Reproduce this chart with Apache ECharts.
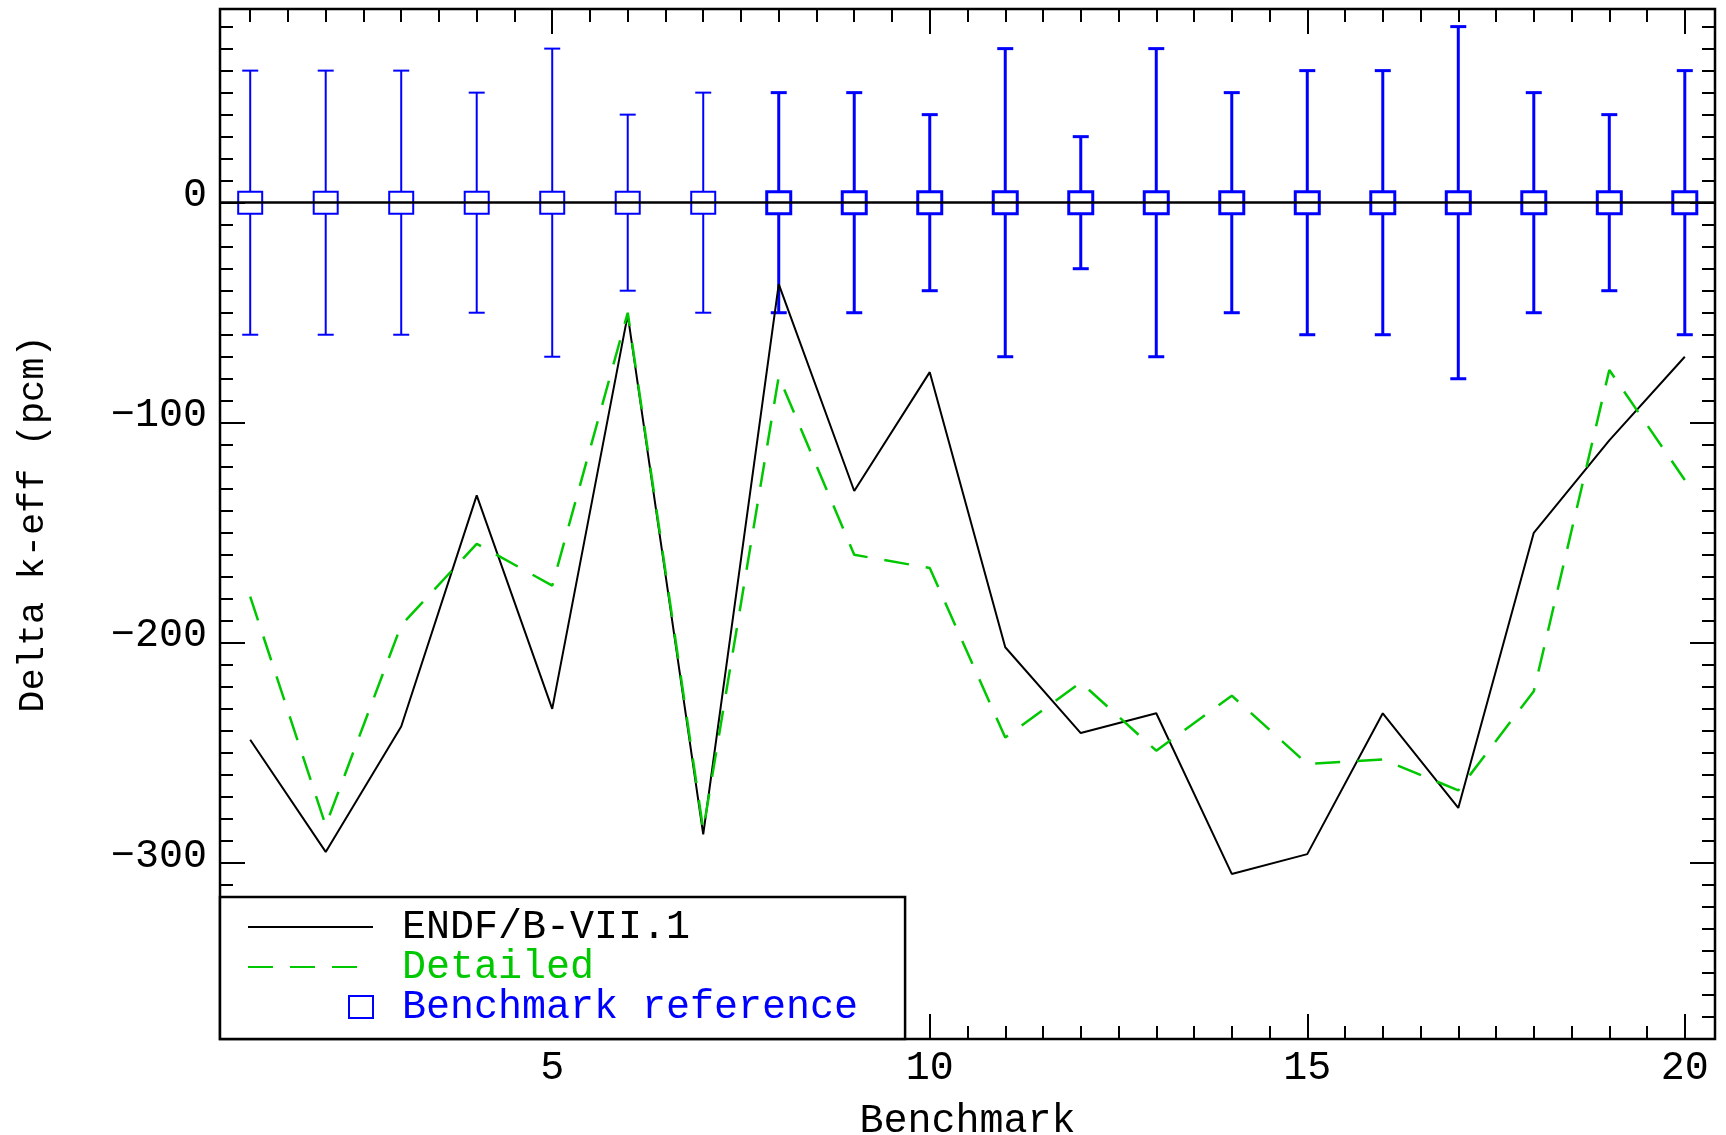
<!DOCTYPE html>
<html>
<head>
<meta charset="utf-8">
<title>Delta k-eff per benchmark</title>
<script src="https://cdn.jsdelivr.net/npm/echarts@6/dist/echarts.min.js"></script>
<style>
  html, body { margin: 0; padding: 0; background: #fff; }
  #main { width: 1726px; height: 1135px; }
</style>
</head>
<body>
<div id="main"></div>
<script>
// data (pcm)
var benchmarks = [1, 2, 3, 4, 5, 6, 7, 8, 9, 10, 11, 12, 13, 14, 15, 16, 17, 18, 19, 20];
var endfValues = [-244, -295, -238, -133, -230, -51, -287, -37, -131, -77, -202, -241, -232, -305, -296, -232, -275, -150, -108, -70];
var detailedValues = [-179, -283, -192, -155, -174, -50, -285, -79, -160, -166, -243, -218, -249, -224, -255, -253, -267, -222, -76, -126];
var refValues = [0, 0, 0, 0, 0, 0, 0, 0, 0, 0, 0, 0, 0, 0, 0, 0, 0, 0, 0, 0];
var refErrors = [60, 60, 60, 50, 70, 40, 50, 50, 50, 40, 70, 30, 70, 50, 60, 60, 80, 50, 40, 60];

// axis ticks
var xLabelTicks = [5, 10, 15, 20];
var yLabelTicks = [0, -100, -200, -300];
var xMin = 0.6, xMax = 20.4;
var yMin = -380, yMax = 88;

var xMinorTicks = [];
for (var t = 1; t <= 20; t += 0.5) xMinorTicks.push(t);
var yMinorTicks = [];
for (var v = -370; v <= 80; v += 10) yMinorTicks.push(v);

var mono = 'Liberation Mono';
var blue = '#0000ff';
var green = '#00c800';
var noDot = { color: 'rgba(0,0,0,0)', borderColor: 'rgba(0,0,0,0)', borderWidth: 0 };

function minusFmt(val) {
  return val < 0 ? '\u2212' + (-val) : String(val);
}

// one helper for all the tick-only axes (frame ticks point inward)
function tickAxis(kind, pos, ticks, len, labels) {
  var ax = {
    type: 'value',
    position: pos,
    min: kind === 'x' ? xMin : yMin,
    max: kind === 'x' ? xMax : yMax,
    axisLine: { show: false, onZero: false },
    splitLine: { show: false },
    axisTick: {
      show: true, inside: true, length: len,
      customValues: ticks,
      lineStyle: { color: '#000', width: 2 }
    },
    axisLabel: { show: false }
  };
  if (labels) {
    ax.axisLabel = {
      show: true,
      customValues: labels,
      formatter: minusFmt,
      color: '#000',
      fontFamily: mono,
      fontSize: 40
    };
  }
  return ax;
}

var xBottom = tickAxis('x', 'bottom', xMinorTicks, 13, xLabelTicks);
xBottom.axisLabel.margin = 9;
xBottom.name = 'Benchmark';
xBottom.nameLocation = 'middle';
xBottom.nameGap = 62;
xBottom.nameTextStyle = { color: '#000', fontFamily: mono, fontSize: 40 };

var yLeft = tickAxis('y', 'left', yMinorTicks, 13, yLabelTicks);
yLeft.axisLabel.margin = 13;
yLeft.axisLabel.verticalAlign = 'bottom';
yLeft.axisLabel.lineHeight = 14;
yLeft.name = 'Delta k-eff (pcm)';
yLeft.nameLocation = 'middle';
yLeft.nameGap = 168;
yLeft.nameTextStyle = { color: '#000', fontFamily: mono, fontSize: 37 };

var chart = echarts.init(document.getElementById('main'));

var option = {
  animation: false,
  backgroundColor: '#fff',
  grid: {
    left: 220, right: 11, top: 9, bottom: 96,
    show: true, borderColor: '#000', borderWidth: 2.5,
    backgroundColor: 'transparent',
    containLabel: false,
    outerBoundsMode: 'none'
  },
  xAxis: [
    xBottom,
    tickAxis('x', 'bottom', xLabelTicks, 25),
    tickAxis('x', 'top', xMinorTicks, 13),
    tickAxis('x', 'top', xLabelTicks, 25)
  ],
  yAxis: [
    yLeft,
    tickAxis('y', 'left', yLabelTicks, 25),
    tickAxis('y', 'right', yMinorTicks, 13),
    tickAxis('y', 'right', yLabelTicks, 25)
  ],
  legend: {
    orient: 'vertical',
    left: 220, top: 897,
    backgroundColor: '#fff',
    borderColor: '#000', borderWidth: 2.5, borderRadius: 0,
    padding: [10, 47, 12, 27],
    itemWidth: 125, itemHeight: 22, itemGap: 0,
    selectedMode: false,
    formatter: function (name) { return ' ' + name; },
    textStyle: { fontFamily: mono, fontSize: 40 },
    data: [
      { name: 'ENDF/B-VII.1', itemStyle: noDot, textStyle: { color: '#000' } },
      { name: 'Detailed', itemStyle: noDot, textStyle: { color: green } },
      {
        name: 'Benchmark reference',
        icon: 'path://M0,11M101,0L125,0L125,22L101,22Z',
        itemStyle: { color: 'rgba(0,0,0,0)', borderColor: blue, borderWidth: 2 },
        textStyle: { color: blue }
      }
    ]
  },
  series: [
    {
      name: 'ENDF/B-VII.1',
      type: 'line',
      data: benchmarks.map(function (b, i) { return [b, endfValues[i]]; }),
      symbol: 'none',
      lineStyle: { color: '#000', width: 2 },
      itemStyle: { color: '#000' },
      markLine: {
        silent: true,
        symbol: 'none',
        label: { show: false },
        lineStyle: { color: '#000', width: 2.5, type: 'solid' },
        data: [{ yAxis: 0 }]
      }
    },
    {
      name: 'Detailed',
      type: 'line',
      data: benchmarks.map(function (b, i) { return [b, detailedValues[i]]; }),
      symbol: 'none',
      lineStyle: { color: green, width: 2.5, type: [25, 17] },
      itemStyle: { color: green }
    },
    {
      name: 'Benchmark reference',
      type: 'custom',
      itemStyle: { color: blue },
      data: benchmarks.map(function (b, i) { return [b, refValues[i], refErrors[i]]; }),
      renderItem: function (params, api) {
        var x = api.value(0), y = api.value(1), e = api.value(2);
        var c = api.coord([x, y]);
        var hi = api.coord([x, y + e]);
        var lo = api.coord([x, y - e]);
        var lw = params.dataIndex < 7 ? 2 : 3;
        var hw = 12, hh = 11, cap = 8;
        var st = { stroke: blue, lineWidth: lw, fill: null };
        return {
          type: 'group',
          children: [
            { type: 'line', shape: { x1: c[0], y1: hi[1], x2: c[0], y2: c[1] - hh }, style: st },
            { type: 'line', shape: { x1: c[0], y1: c[1] + hh, x2: c[0], y2: lo[1] }, style: st },
            { type: 'line', shape: { x1: c[0] - cap, y1: hi[1], x2: c[0] + cap, y2: hi[1] }, style: st },
            { type: 'line', shape: { x1: c[0] - cap, y1: lo[1], x2: c[0] + cap, y2: lo[1] }, style: st },
            { type: 'rect', shape: { x: c[0] - hw, y: c[1] - hh, width: 2 * hw, height: 2 * hh },
              style: { stroke: blue, lineWidth: lw, fill: 'none' } }
          ]
        };
      }
    }
  ]
};

chart.setOption(option);
</script>
</body>
</html>
